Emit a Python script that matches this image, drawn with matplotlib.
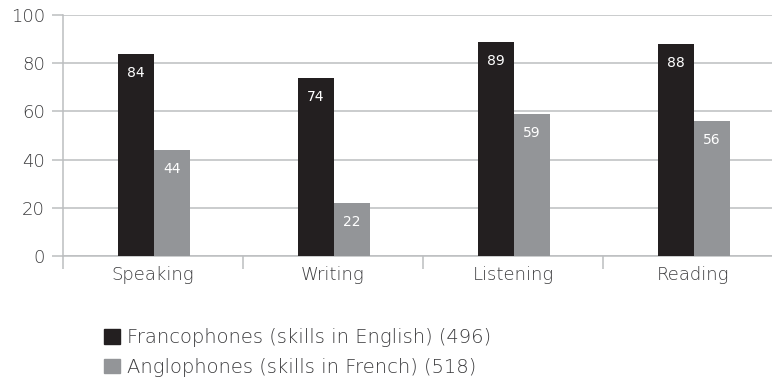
import matplotlib
matplotlib.use("Agg")
import matplotlib.pyplot as plt
import numpy as np
from matplotlib.patches import Patch

plt.rcParams["font.family"] = ["DejaVu Sans"]

skills = ["Speaking", "Writing", "Listening", "Reading"]
franco = [84, 74, 89, 88]
anglo = [44, 22, 59, 56]
legend_labels = [
    "Francophones (skills in English) (496)",
    "Anglophones (skills in French) (518)",
]

dark = "#231f20"
grey = "#939598"
line = "#bcbec0"
text = "#3c3c3e"

fig = plt.figure(figsize=(7.72, 3.85), dpi=100)
ax = fig.add_axes([63 / 772, 129 / 385, 720 / 772, 241 / 385])

x = np.arange(len(skills)) + 0.5
w = 0.2
b1 = ax.bar(x - 0.095, franco, w, color=dark, zorder=3)
b2 = ax.bar(x + 0.105, anglo, w, color=grey, zorder=3)

# value labels inside the top of each bar
for bars, vals in ((b1, franco), (b2, anglo)):
    for r, v in zip(bars, vals):
        ax.annotate(str(v), (r.get_x() + r.get_width() / 2, v),
                    xytext=(0, -14), textcoords="offset points",
                    ha="center", va="center", color="white", fontsize=10)

ax.set_xlim(0, 4)
ax.set_ylim(0, 100)
ax.set_yticks(range(0, 101, 20))
ax.yaxis.grid(True, color=line, linewidth=1.1, zorder=0)
ax.set_xticks(x)
ax.set_xticklabels(skills)
ax.set_xticks(range(0, 5), minor=True)

for s in ("top", "right"):
    ax.spines[s].set_visible(False)
for s in ("left", "bottom"):
    ax.spines[s].set_color(line)
    ax.spines[s].set_linewidth(1.1)

for lab in ax.get_xticklabels() + ax.get_yticklabels():
    lab.set_fontweight("light")
ax.tick_params(axis="y", length=8, width=1.1, color=line, labelcolor=text,
               labelsize=13, pad=5)
ax.tick_params(axis="x", which="major", length=0, labelcolor=text,
               labelsize=13, pad=7)
ax.tick_params(axis="x", which="minor", length=9, width=1.1, color=line)

handles = [Patch(color=dark), Patch(color=grey)]
fig.legend(handles, legend_labels, loc="upper left",
           bbox_to_anchor=(104 / 772, 1 - 328 / 385), frameon=False,
           prop={"size": 14, "weight": "light"},
           labelcolor=text, handlelength=0.8, handleheight=0.8,
           handletextpad=0.4, labelspacing=0.55, borderaxespad=0,
           borderpad=0)

fig.savefig("out.png", dpi=100)
